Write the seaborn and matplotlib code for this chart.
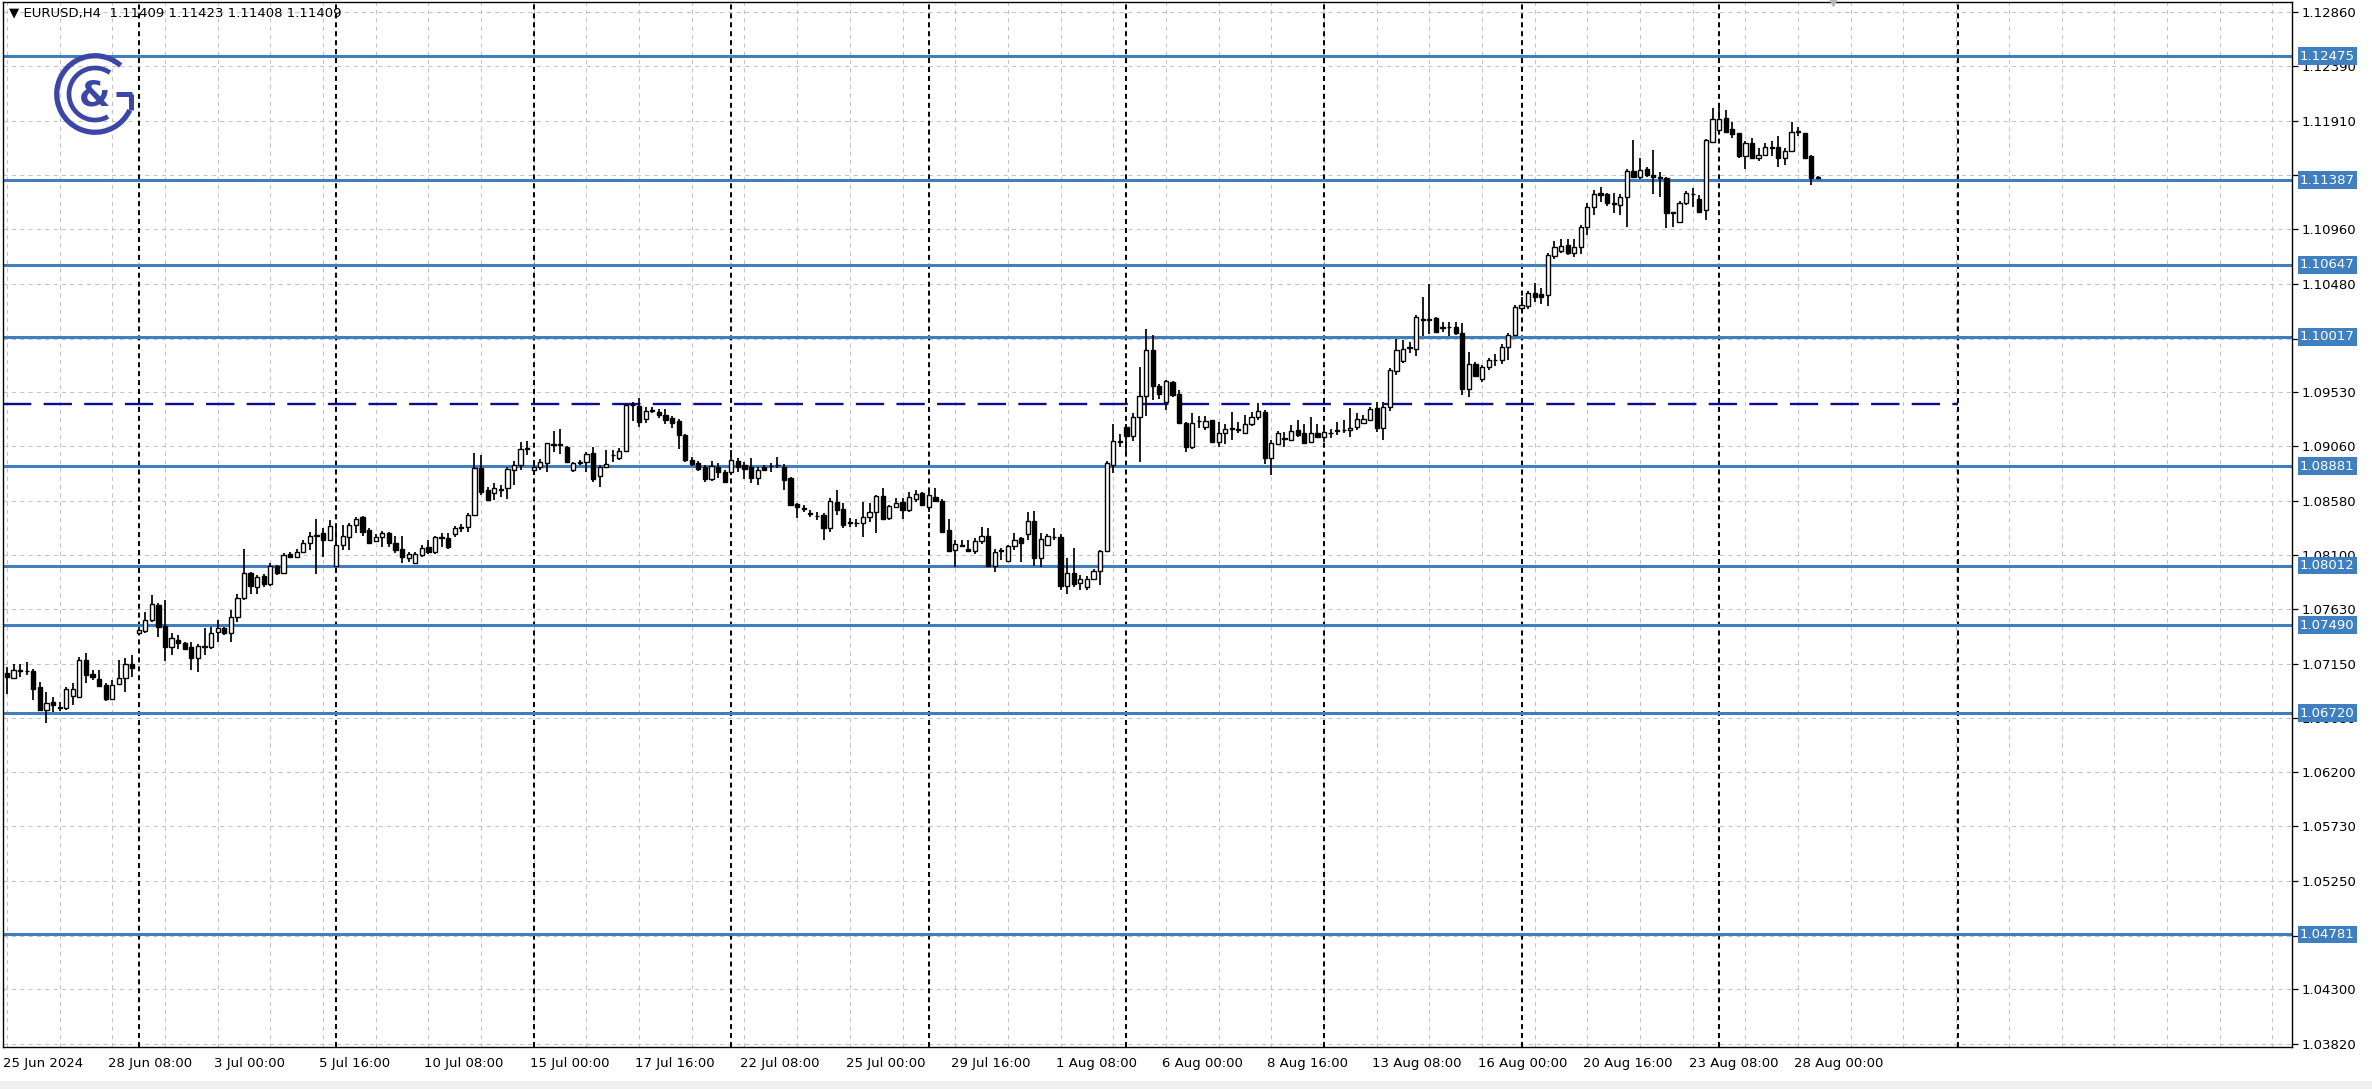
import matplotlib
matplotlib.use("Agg")
import matplotlib.pyplot as plt
import matplotlib.transforms as mtransforms
from matplotlib.patches import Arc, Rectangle
import numpy as np
import pandas as pd
import seaborn as sns

# EURUSD H4 candles, 25 Jun 2024 16:00 .. 28 Aug 2024 12:00
opens = [
    1.07072, 1.07023, 1.07090, 1.07090, 1.07090, 1.06944, 1.06745, 1.06815, 1.06768, 1.06760,
    1.06868, 1.06862, 1.07189, 1.07061, 1.07014, 1.06964, 1.06845, 1.06973, 1.07023, 1.07146,
    1.07417, 1.07440, 1.07534, 1.07668, 1.07481, 1.07300, 1.07359, 1.07335, 1.07300, 1.07198,
    1.07300, 1.07300, 1.07431, 1.07461, 1.07417, 1.07563, 1.07724, 1.07948, 1.07820, 1.07919,
    1.07849, 1.08007, 1.07948, 1.08109, 1.08083, 1.08132, 1.08211, 1.08275, 1.08293, 1.08234,
    1.08006, 1.08190, 1.08263, 1.08366, 1.08433, 1.08322, 1.08228, 1.08263, 1.08293, 1.08211,
    1.08161, 1.08074, 1.08036, 1.08103, 1.08176, 1.08132, 1.08255, 1.08249, 1.08287, 1.08343,
    1.08351, 1.08453, 1.08862, 1.08672, 1.08649, 1.08678, 1.08687, 1.08853, 1.08891, 1.09034,
    1.08847, 1.08871, 1.08912, 1.09072, 1.09075, 1.09052, 1.08847, 1.08912, 1.08921, 1.08999,
    1.08795, 1.08877, 1.08977, 1.08950, 1.09018, 1.09415, 1.09409, 1.09292, 1.09365, 1.09353,
    1.09330, 1.09301, 1.09280, 1.09155, 1.08936, 1.08907, 1.08872, 1.08766, 1.08877, 1.08834,
    1.08834, 1.08930, 1.08892, 1.08872, 1.08775, 1.08872, 1.08880, 1.08889, 1.08877, 1.08775,
    1.08547, 1.08515, 1.08472, 1.08448, 1.08454, 1.08337, 1.08571, 1.08504, 1.08390, 1.08387,
    1.08387, 1.08439, 1.08483, 1.08620, 1.08425, 1.08527, 1.08571, 1.08497, 1.08599, 1.08649,
    1.08527, 1.08608, 1.08579, 1.08322, 1.08152, 1.08187, 1.08161, 1.08141, 1.08228, 1.08269,
    1.08007, 1.08138, 1.08053, 1.08182, 1.08249, 1.08287, 1.08404, 1.08074, 1.08190, 1.08260,
    1.08263, 1.07831, 1.07951, 1.07855, 1.07825, 1.07890, 1.07966, 1.08141, 1.08891, 1.09093,
    1.09227, 1.09145, 1.09309, 1.09496, 1.09904, 1.09583, 1.09446, 1.09621, 1.09513, 1.09262,
    1.09046, 1.09277, 1.09227, 1.09285, 1.09096, 1.09174, 1.09209, 1.09207, 1.09174, 1.09256,
    1.09309, 1.09358, 1.08958, 1.09075, 1.09122, 1.09116, 1.09198, 1.09174, 1.09096, 1.09174,
    1.09139, 1.09172, 1.09189, 1.09195, 1.09198, 1.09227, 1.09262, 1.09291, 1.09396, 1.09221,
    1.09402, 1.09718, 1.09805, 1.09919, 1.09913, 1.10164, 1.10170, 1.10176, 1.10100, 1.10097,
    1.10103, 1.10045, 1.09554, 1.09776, 1.09650, 1.09753, 1.09808, 1.09811, 1.09928, 1.10030,
    1.10264, 1.10285, 1.10402, 1.10390, 1.10381, 1.10723, 1.10770, 1.10819, 1.10746, 1.10805,
    1.10974, 1.11149, 1.11278, 1.11266, 1.11187, 1.11170, 1.11243, 1.11470, 1.11412, 1.11482,
    1.11432, 1.11415, 1.11403, 1.11105, 1.11024, 1.11184, 1.11269, 1.11219, 1.11126, 1.11724,
    1.11827, 1.11929, 1.11832, 1.11797, 1.11599, 1.11716, 1.11578, 1.11605, 1.11678, 1.11675,
    1.11578, 1.11646, 1.11809, 1.11797, 1.11599, 1.11409,
]
highs = [
    1.07125, 1.07154, 1.07148, 1.07169, 1.07110, 1.06994, 1.06906, 1.06862, 1.06818, 1.06950,
    1.06979, 1.07207, 1.07248, 1.07096, 1.07096, 1.06979, 1.07008, 1.07189, 1.07198, 1.07227,
    1.07475, 1.07607, 1.07753, 1.07686, 1.07709, 1.07417, 1.07402, 1.07344, 1.07344, 1.07324,
    1.07467, 1.07475, 1.07534, 1.07475, 1.07621, 1.07767, 1.08153, 1.07957, 1.07928, 1.07937,
    1.08030, 1.08021, 1.08124, 1.08132, 1.08153, 1.08235, 1.08307, 1.08424, 1.08337, 1.08415,
    1.08337, 1.08366, 1.08386, 1.08433, 1.08444, 1.08337, 1.08287, 1.08316, 1.08307, 1.08269,
    1.08269, 1.08132, 1.08132, 1.08190, 1.08234, 1.08269, 1.08293, 1.08299, 1.08357, 1.08380,
    1.08474, 1.09000, 1.08979, 1.08696, 1.08737, 1.08716, 1.08877, 1.08929, 1.09096, 1.09104,
    1.08935, 1.08941, 1.09087, 1.09192, 1.09212, 1.09058, 1.08921, 1.08935, 1.09008, 1.09052,
    1.08891, 1.09023, 1.09023, 1.09038, 1.09426, 1.09447, 1.09476, 1.09403, 1.09397, 1.09380,
    1.09380, 1.09321, 1.09292, 1.09164, 1.08965, 1.08930, 1.08892, 1.08930, 1.08907, 1.08848,
    1.09023, 1.08950, 1.08921, 1.08950, 1.08872, 1.08892, 1.08912, 1.08965, 1.08901, 1.08784,
    1.08562, 1.08542, 1.08498, 1.08483, 1.08469, 1.08600, 1.08673, 1.08556, 1.08425, 1.08416,
    1.08571, 1.08556, 1.08629, 1.08688, 1.08542, 1.08600, 1.08600, 1.08658, 1.08672, 1.08658,
    1.08672, 1.08687, 1.08591, 1.08416, 1.08240, 1.08234, 1.08234, 1.08249, 1.08351, 1.08345,
    1.08161, 1.08170, 1.08190, 1.08298, 1.08264, 1.08482, 1.08491, 1.08293, 1.08287, 1.08345,
    1.08287, 1.08074, 1.08170, 1.07928, 1.07919, 1.07986, 1.08152, 1.08929, 1.09256, 1.09163,
    1.09256, 1.09344, 1.09753, 1.10080, 1.10030, 1.09601, 1.09636, 1.09630, 1.09548, 1.09271,
    1.09344, 1.09320, 1.09320, 1.09291, 1.09271, 1.09256, 1.09358, 1.09271, 1.09329, 1.09358,
    1.09437, 1.09373, 1.09110, 1.09192, 1.09183, 1.09242, 1.09285, 1.09256, 1.09315, 1.09250,
    1.09212, 1.09204, 1.09271, 1.09291, 1.09388, 1.09344, 1.09329, 1.09402, 1.09446, 1.09446,
    1.09738, 1.09992, 1.09986, 1.09972, 1.10205, 1.10360, 1.10477, 1.10185, 1.10147, 1.10147,
    1.10147, 1.10138, 1.09884, 1.09796, 1.09767, 1.09826, 1.09869, 1.09951, 1.10045, 1.10293,
    1.10367, 1.10419, 1.10489, 1.10440, 1.10746, 1.10857, 1.10869, 1.10869, 1.10869, 1.10994,
    1.11190, 1.11301, 1.11324, 1.11278, 1.11272, 1.11266, 1.11482, 1.11739, 1.11578, 1.11500,
    1.11651, 1.11462, 1.11412, 1.11111, 1.11208, 1.11295, 1.11316, 1.11257, 1.11745, 1.12016,
    1.12054, 1.12002, 1.11900, 1.11803, 1.11733, 1.11754, 1.11666, 1.11710, 1.11733, 1.11774,
    1.11666, 1.11900, 1.11850, 1.11803, 1.11608, 1.11423,
]
lows = [
    1.06891, 1.07017, 1.07037, 1.07052, 1.06833, 1.06740, 1.06634, 1.06731, 1.06740, 1.06751,
    1.06789, 1.06848, 1.06979, 1.07008, 1.06950, 1.06827, 1.06833, 1.06962, 1.06906, 1.07037,
    1.07400, 1.07417, 1.07519, 1.07388, 1.07178, 1.07227, 1.07285, 1.07271, 1.07096, 1.07081,
    1.07227, 1.07285, 1.07344, 1.07402, 1.07344, 1.07519, 1.07709, 1.07767, 1.07761, 1.07820,
    1.07832, 1.07928, 1.07937, 1.08074, 1.08074, 1.08124, 1.08152, 1.07942, 1.08088, 1.08228,
    1.08000, 1.08147, 1.08147, 1.08293, 1.08269, 1.08205, 1.08220, 1.08176, 1.08176, 1.08123,
    1.08030, 1.08044, 1.08030, 1.08088, 1.08112, 1.08117, 1.08176, 1.08161, 1.08263, 1.08307,
    1.08307, 1.08444, 1.08629, 1.08579, 1.08585, 1.08614, 1.08599, 1.08716, 1.08853, 1.08979,
    1.08804, 1.08847, 1.08833, 1.09008, 1.08993, 1.08912, 1.08833, 1.08891, 1.08833, 1.08745,
    1.08701, 1.08862, 1.08921, 1.08936, 1.09009, 1.09280, 1.09222, 1.09257, 1.09350, 1.09301,
    1.09251, 1.09213, 1.09029, 1.08921, 1.08883, 1.08842, 1.08746, 1.08755, 1.08775, 1.08737,
    1.08804, 1.08834, 1.08766, 1.08731, 1.08717, 1.08842, 1.08834, 1.08863, 1.08673, 1.08533,
    1.08425, 1.08483, 1.08439, 1.08410, 1.08235, 1.08308, 1.08454, 1.08337, 1.08346, 1.08352,
    1.08264, 1.08396, 1.08293, 1.08410, 1.08410, 1.08512, 1.08416, 1.08482, 1.08570, 1.08535,
    1.08482, 1.08570, 1.08298, 1.08132, 1.08001, 1.08176, 1.08132, 1.08117, 1.08205, 1.08001,
    1.07957, 1.08059, 1.08044, 1.08147, 1.08044, 1.08234, 1.08007, 1.08001, 1.08182, 1.08234,
    1.07796, 1.07767, 1.07825, 1.07796, 1.07802, 1.07884, 1.07840, 1.08132, 1.08824, 1.09052,
    1.08993, 1.09104, 1.08920, 1.09320, 1.09466, 1.09475, 1.09373, 1.09484, 1.09256, 1.09008,
    1.09037, 1.09221, 1.09198, 1.09087, 1.09046, 1.09075, 1.09116, 1.09169, 1.09163, 1.09233,
    1.09291, 1.08900, 1.08804, 1.09066, 1.09052, 1.09104, 1.09139, 1.09075, 1.09087, 1.09134,
    1.09096, 1.09125, 1.09154, 1.09169, 1.09139, 1.09198, 1.09250, 1.09280, 1.09183, 1.09110,
    1.09367, 1.09680, 1.09782, 1.09875, 1.09846, 1.10021, 1.10039, 1.10050, 1.10059, 1.10021,
    1.10030, 1.09504, 1.09484, 1.09665, 1.09621, 1.09729, 1.09758, 1.09776, 1.09811, 1.10021,
    1.10235, 1.10256, 1.10323, 1.10302, 1.10285, 1.10694, 1.10752, 1.10732, 1.10711, 1.10740,
    1.10907, 1.11082, 1.11199, 1.11161, 1.11097, 1.11082, 1.10980, 1.11403, 1.11394, 1.11412,
    1.11266, 1.11237, 1.10965, 1.10974, 1.11015, 1.11170, 1.11155, 1.11097, 1.11038, 1.11716,
    1.11812, 1.11803, 1.11753, 1.11578, 1.11482, 1.11570, 1.11558, 1.11599, 1.11599, 1.11505,
    1.11520, 1.11637, 1.11774, 1.11570, 1.11345, 1.11408,
]
closes = [
    1.07032, 1.07096, 1.07096, 1.07084, 1.06935, 1.06745, 1.06804, 1.06792, 1.06768, 1.06930,
    1.06927, 1.07189, 1.07052, 1.07032, 1.06956, 1.06842, 1.06970, 1.07029, 1.07148, 1.07116,
    1.07446, 1.07534, 1.07674, 1.07475, 1.07300, 1.07373, 1.07335, 1.07285, 1.07198, 1.07306,
    1.07309, 1.07423, 1.07461, 1.07417, 1.07563, 1.07732, 1.07948, 1.07832, 1.07913, 1.07849,
    1.08007, 1.07948, 1.08103, 1.08089, 1.08132, 1.08211, 1.08275, 1.08281, 1.08240, 1.08357,
    1.08196, 1.08269, 1.08366, 1.08424, 1.08307, 1.08211, 1.08263, 1.08293, 1.08211, 1.08147,
    1.08088, 1.08112, 1.08112, 1.08170, 1.08132, 1.08258, 1.08261, 1.08176, 1.08345, 1.08348,
    1.08459, 1.08862, 1.08658, 1.08585, 1.08687, 1.08684, 1.08859, 1.08891, 1.09037, 1.09040,
    1.08877, 1.08917, 1.09081, 1.09078, 1.09064, 1.08921, 1.08906, 1.08915, 1.08993, 1.08774,
    1.08877, 1.08900, 1.08983, 1.09018, 1.09418, 1.09421, 1.09272, 1.09368, 1.09371, 1.09330,
    1.09286, 1.09257, 1.09155, 1.08936, 1.08901, 1.08854, 1.08766, 1.08883, 1.08834, 1.08746,
    1.08936, 1.08872, 1.08854, 1.08775, 1.08848, 1.08848, 1.08886, 1.08895, 1.08761, 1.08542,
    1.08521, 1.08510, 1.08463, 1.08442, 1.08337, 1.08579, 1.08498, 1.08366, 1.08384, 1.08387,
    1.08439, 1.08483, 1.08620, 1.08416, 1.08533, 1.08562, 1.08498, 1.08608, 1.08643, 1.08541,
    1.08629, 1.08579, 1.08307, 1.08141, 1.08199, 1.08193, 1.08141, 1.08228, 1.08269, 1.08007,
    1.08129, 1.08144, 1.08182, 1.08240, 1.08211, 1.08404, 1.08074, 1.08246, 1.08269, 1.08266,
    1.07831, 1.07951, 1.07849, 1.07896, 1.07896, 1.07963, 1.08141, 1.08906, 1.09105, 1.09099,
    1.09145, 1.09309, 1.09496, 1.09904, 1.09583, 1.09513, 1.09630, 1.09504, 1.09262, 1.09046,
    1.09262, 1.09282, 1.09282, 1.09096, 1.09177, 1.09209, 1.09215, 1.09201, 1.09256, 1.09309,
    1.09367, 1.08958, 1.09081, 1.09177, 1.09128, 1.09192, 1.09154, 1.09087, 1.09177, 1.09139,
    1.09180, 1.09177, 1.09195, 1.09201, 1.09221, 1.09297, 1.09297, 1.09385, 1.09221, 1.09402,
    1.09723, 1.09899, 1.09910, 1.09925, 1.10191, 1.10170, 1.10164, 1.10059, 1.10094, 1.10097,
    1.10045, 1.09554, 1.09773, 1.09671, 1.09747, 1.09811, 1.09814, 1.09928, 1.10030, 1.10278,
    1.10294, 1.10396, 1.10361, 1.10361, 1.10731, 1.10799, 1.10813, 1.10746, 1.10799, 1.10980,
    1.11149, 1.11263, 1.11257, 1.11184, 1.11181, 1.11243, 1.11470, 1.11412, 1.11476, 1.11432,
    1.11418, 1.11409, 1.11097, 1.11099, 1.11190, 1.11278, 1.11263, 1.11111, 1.11739, 1.11926,
    1.11926, 1.11812, 1.11792, 1.11599, 1.11716, 1.11578, 1.11605, 1.11681, 1.11672, 1.11578,
    1.11646, 1.11812, 1.11815, 1.11578, 1.11403, 1.11409,
]

# time axis labels, one every 16 bars starting at bar 0
date_labels = [
    "25 Jun 2024", "28 Jun 08:00", "3 Jul 00:00", "5 Jul 16:00", "10 Jul 08:00",
    "15 Jul 00:00", "17 Jul 16:00", "22 Jul 08:00", "25 Jul 00:00", "29 Jul 16:00",
    "1 Aug 08:00", "6 Aug 00:00", "8 Aug 16:00", "13 Aug 08:00", "16 Aug 00:00",
    "20 Aug 16:00", "23 Aug 08:00", "28 Aug 00:00",
]
label_step = 16
grid_step = 8
# Monday 00:00 separators (bar numbers), last one in the empty future area
week_bars = [20, 50, 80, 110, 140, 170, 200, 230, 260, 296.3]

price_ticks = [
    1.03820, 1.04300, 1.04770, 1.05250, 1.05730, 1.06200, 1.06680, 1.07150, 1.07630, 1.08100,
    1.08580, 1.09060, 1.09530, 1.10000, 1.10480, 1.10960, 1.11430, 1.11910, 1.12390, 1.12860,
]
levels = [1.12475, 1.11387, 1.10647, 1.10017, 1.08881, 1.08012, 1.07490, 1.06720, 1.04781]
dashed_level = 1.09425
header = "\u25bc EURUSD,H4  1.11409 1.11423 1.11408 1.11409"

df = pd.DataFrame({"open": opens, "high": highs, "low": lows, "close": closes})
df["bar"] = np.arange(len(df))
df["up"] = df["close"] >= df["open"]
df["body_lo"] = df[["open", "close"]].min(axis=1)
df["body_h"] = (df["close"] - df["open"]).abs().clip(lower=0.00002)

sns.set_theme(style="white")
plt.rcParams["font.family"] = ["DejaVu Sans"]

W, H, DPI = 2372, 1089, 100
STEEL = "#3f7fbf"
GRID = "#c4c4c4"

fig = plt.figure(figsize=(W / DPI, H / DPI), dpi=DPI, facecolor="white")
ax = fig.add_axes([3 / W, 1 - 1047 / H, (2292 - 3) / W, (1047 - 2) / H])
ax.set_facecolor("white")
ax.set_xlim(-0.6, 347.0)
ax.set_ylim(1.03795, 1.12948)

# grid
for p in price_ticks:
    ax.axhline(p, color=GRID, lw=0.75, ls=(0, (4, 4)), zorder=0)
for b in range(0, 348, grid_step):
    ax.axvline(b, color=GRID, lw=0.75, ls=(0, (4, 4)), zorder=0)

# week separators
for b in week_bars:
    ax.axvline(b, color="black", lw=1.4, ls=(0, (2.6, 2.0)), zorder=1)

# support / resistance levels
for lv in levels:
    ax.axhline(lv, color=STEEL, lw=2.2, zorder=1.5)
    ax.annotate(f"{lv:.5f}", xy=(1, lv), xycoords=("axes fraction", "data"),
                xytext=(8, 0), textcoords="offset pixels", va="center", ha="left",
                color="white", fontsize=9.5, annotation_clip=False, zorder=10,
                bbox=dict(boxstyle="square,pad=0.18", fc=STEEL, ec="none"))
ax.plot([-0.6, week_bars[-1]], [dashed_level, dashed_level], color="#0c0c90",
        lw=1.7, ls=(0, (12, 5.2)), zorder=1.6)

# candles
ax.vlines(df["bar"], df["low"], df["high"], color="black", lw=1.25, zorder=3)
fills = np.where(df["up"], "white", "black")
ax.bar(df["bar"], df["body_h"], bottom=df["body_lo"], width=0.64, color=fills,
       edgecolor="black", linewidth=1.0, zorder=4)

# chart shift marker
ax.plot([277.3], [1.0], marker="v", ms=6, color="#b8b8b8", transform=ax.get_xaxis_transform(),
        clip_on=False, zorder=5)

# axes styling
for s in ax.spines.values():
    s.set_color("black")
    s.set_linewidth(1.0)
ax.yaxis.tick_right()
ax.set_yticks(price_ticks)
ax.set_yticklabels([f"{p:.5f}" for p in price_ticks])
ax.set_xticks(np.arange(len(date_labels)) * label_step)
ax.set_xticklabels(date_labels)
ax.tick_params(axis="both", direction="out", length=4, width=0.9, pad=3,
               labelsize=9.5, colors="black", labelcolor="black")
shift = mtransforms.ScaledTranslation(-3 / 72, 0, fig.dpi_scale_trans)
for lbl in ax.get_xticklabels():
    lbl.set_horizontalalignment("left")
    lbl.set_transform(lbl.get_transform() + shift)
ax.grid(False)

# header text
fig.text(9 / W, 1 - 13 / H, header, va="center", ha="left", fontsize=9.5, color="black")

# logo
LOGO = "#3b46a6"
lax = fig.add_axes([50 / W, 1 - 138 / H, 90 / W, 88 / H])
lax.set_xlim(-1.15, 1.15)
lax.set_ylim(-1.15, 1.15)
lax.set_aspect("equal")
lax.axis("off")
lax.add_patch(Arc((0, 0), 2.0, 2.0, theta1=48, theta2=335, lw=3.8, color=LOGO))
lax.add_patch(Arc((0, 0), 1.36, 1.36, theta1=55, theta2=300, lw=3.4, color=LOGO))
lax.plot([0.55, 0.97], [0.0, 0.0], color=LOGO, lw=3.6, solid_capstyle="butt")
lax.plot([0.95, 0.95], [0.0, -0.42], color=LOGO, lw=3.6, solid_capstyle="butt")
lax.text(0.0, -0.05, "&", ha="center", va="center", fontsize=26, fontweight="bold", color=LOGO)

# bottom strip of the terminal window
fig.patches.append(Rectangle((0, 0), 1, 8 / H, transform=fig.transFigure,
                             facecolor="#efefef", edgecolor="none", zorder=-1))

fig.savefig("out.png", dpi=DPI, facecolor="white")
